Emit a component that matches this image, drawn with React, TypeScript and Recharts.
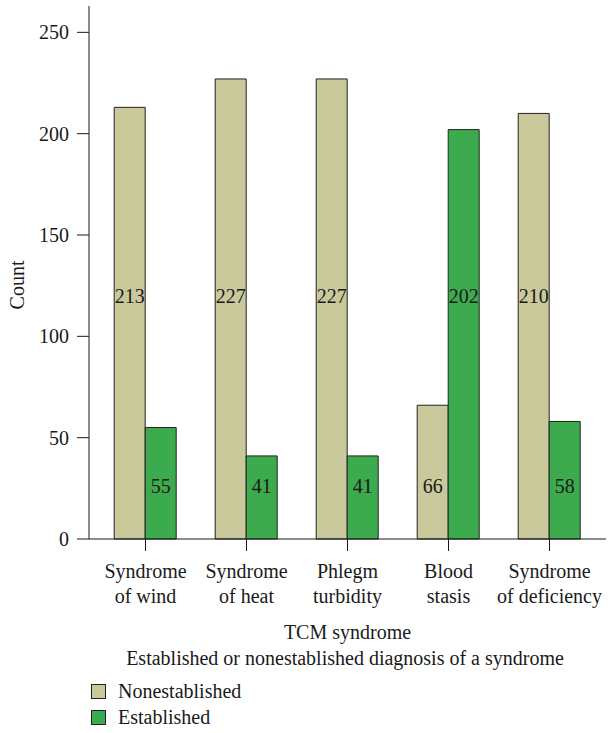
import { Bar, BarChart, LabelList, Legend, XAxis, YAxis } from "recharts";

const categories = [
  ["Syndrome", "of wind"],
  ["Syndrome", "of heat"],
  ["Phlegm", "turbidity"],
  ["Blood", "stasis"],
  ["Syndrome", "of deficiency"],
];
const nonestablished = [213, 227, 227, 66, 210];
const established = [55, 41, 41, 202, 58];
const yTicks = [0, 50, 100, 150, 200, 250];

const TAN = "#c9c99b";
const GREEN = "#3cab4e";
const FONT = "'Liberation Serif', 'Times New Roman', serif";
const INK = "#1a1a1a";

const data = categories.map((lines, i) => ({
  name: lines.join(" "),
  lines,
  nonestablished: nonestablished[i],
  established: established[i],
}));

// labels sit at a fixed height: tall bars near 120, short bars near 26
function renderValueLabel(props: any) {
  const { x, y, width, height, value } = props;
  if (!value) return null;
  const perUnit = height / value;
  const bottom = y + height;
  const level = value > 100 ? 120 : 26;
  const ly = bottom - perUnit * level;
  return (
    <text x={x + width / 2} y={ly} textAnchor="middle" dominantBaseline="central"
      fontFamily={FONT} fontSize={20} fill={INK}>
      {value}
    </text>
  );
}

function CategoryTick(props: any) {
  const { x, y, payload, index } = props;
  const lines = categories[index] ?? [payload.value];
  return (
    <g transform={`translate(${x},${y})`}>
      {lines.map((l: string, i: number) => (
        <text key={i} x={0} y={18 + i * 25} textAnchor="middle" dominantBaseline="central"
          fontFamily={FONT} fontSize={20} fill={INK}>
          {l}
        </text>
      ))}
    </g>
  );
}

function LegendContent() {
  const items = [
    { label: "Nonestablished", color: TAN },
    { label: "Established", color: GREEN },
  ];
  return (
    <div style={{ height: 54, paddingLeft: 91, paddingTop: 2, boxSizing: "border-box",
      fontFamily: FONT, fontSize: 20, color: INK }}>
      {items.map((it) => (
        <div key={it.label} style={{ display: "flex", alignItems: "center", height: 26 }}>
          <span style={{ display: "inline-block", width: 13, height: 13, background: it.color,
            border: "1px solid #222", marginRight: 12 }} />
          <span>{it.label}</span>
        </div>
      ))}
    </div>
  );
}

export default function App() {
  return (
    <div style={{ position: "absolute", left: 0, top: 0, background: "#fff" }}>
      <BarChart width={611} height={733} data={data}
        margin={{ top: 6, right: 5, left: 0, bottom: 3 }}
        barGap={0} barCategoryGap="19%">
        <XAxis dataKey="name" xAxisId="top" orientation="top" tick={false} tickLine={false}
          axisLine={{ stroke: INK }} height={0} />
        <YAxis yAxisId="right" orientation="right" tick={false} tickLine={false}
          axisLine={{ stroke: INK }} width={0} domain={[0, 263]} />
        <XAxis dataKey="name" height={137} tickSize={12} padding={{ left: 6, right: 6 }}
          axisLine={{ stroke: INK }} tickLine={{ stroke: INK }} interval={0}
          tick={<CategoryTick />}
          label={{
            content: () => (
              <g>
                <text x={347.5} y={632} textAnchor="middle" dominantBaseline="central"
                  fontFamily={FONT} fontSize={20} fill={INK}>TCM syndrome</text>
                <text x={345} y={658} textAnchor="middle" dominantBaseline="central"
                  fontFamily={FONT} fontSize={20} fill={INK}>
                  Established or nonestablished diagnosis of a syndrome
                </text>
              </g>
            ),
          }} />
        <YAxis width={89} domain={[0, 263]} ticks={yTicks} tickSize={12} tickMargin={8}
          axisLine={{ stroke: INK }} tickLine={{ stroke: INK }}
          tick={{ fontFamily: FONT, fontSize: 20, fill: INK }}
          label={{
            content: () => (
              <text x={17} y={285} textAnchor="middle" dominantBaseline="central"
                transform="rotate(-90 17 285)" fontFamily={FONT} fontSize={20} fill={INK}>
                Count
              </text>
            ),
          }} />
        <Legend verticalAlign="bottom" align="left" content={<LegendContent />} />
        <Bar dataKey="nonestablished" name="Nonestablished" fill={TAN} stroke="#222"
          strokeWidth={1} isAnimationActive={false}>
          <LabelList dataKey="nonestablished" content={renderValueLabel} />
        </Bar>
        <Bar dataKey="established" name="Established" fill={GREEN} stroke="#222"
          strokeWidth={1} isAnimationActive={false}>
          <LabelList dataKey="established" content={renderValueLabel} />
        </Bar>
      </BarChart>
    </div>
  );
}
